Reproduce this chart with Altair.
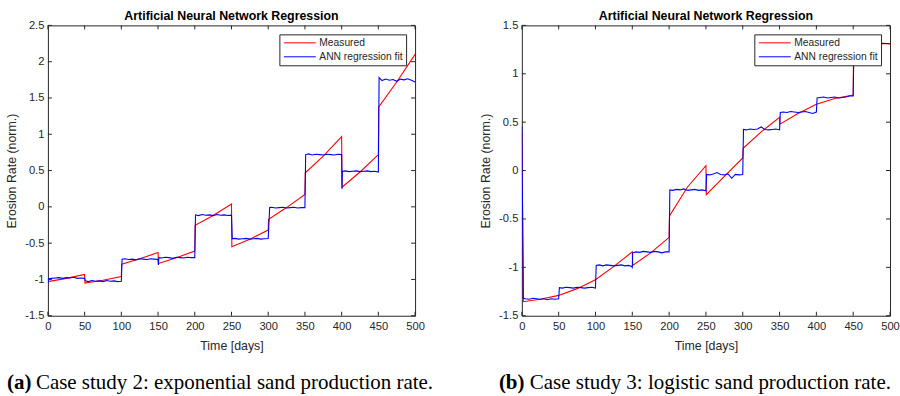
import altair as alt
import pandas as pd

# ---------------- data ----------------
series_names = ["Measured", "ANN regression fit"]
series_colors = ["#ff0000", "#0000ff"]

x_ticks = [0, 50, 100, 150, 200, 250, 300, 350, 400, 450, 500]
left_y_ticks = [-1.5, -1, -0.5, 0, 0.5, 1, 1.5, 2, 2.5]
right_y_ticks = [-1.5, -1, -0.5, 0, 0.5, 1, 1.5]

panel_title = "Artificial Neural Network Regression"
x_title = "Time [days]"
y_title = "Erosion Rate (norm.)"
cap_tags = ["(a)", "(b)"]
cap_texts = ["Case study 2: exponential sand production rate.",
             "Case study 3: logistic sand production rate."]

# Case study 2 (exponential)
a_meas_t = [0, 25, 50, 50.5, 75, 100, 100.5, 125, 150, 150.5, 175, 200, 200.5, 225, 250,
            250.5, 275, 300, 300.5, 325, 350, 350.5, 375, 400, 400.5, 425, 450, 450.5, 475, 500]
a_meas_v = [-1.03, -0.985, -0.93, -1.05, -1.01, -0.96, -0.79, -0.715, -0.63, -0.78, -0.70, -0.61,
            -0.255, -0.12, 0.04, -0.55, -0.445, -0.32, -0.17, -0.01, 0.17, 0.47, 0.70, 0.966,
            0.27, 0.48, 0.72, 1.375, 1.72, 2.10]
a_fit_t = [0, 1, 5, 10, 15, 20, 25, 30, 35, 40, 45, 50,
           51, 55, 60, 65, 70, 75, 80, 85, 90, 95, 100,
           101, 105, 110, 115, 120, 125, 130, 135, 140, 145, 150,
           150.5, 151, 155, 160, 165, 170, 175, 180, 185, 190, 195, 200,
           201, 205, 210, 215, 220, 225, 230, 235, 240, 245, 250,
           251, 255, 260, 265, 270, 275, 280, 285, 290, 295, 300,
           302, 305, 310, 315, 320, 325, 330, 335, 340, 345, 350,
           351, 355, 360, 365, 370, 375, 380, 385, 390, 395, 400,
           400.5, 401, 405, 410, 415, 420, 425, 430, 435, 440, 445, 450,
           451, 455, 460, 465, 470, 475, 480, 485, 490, 495, 500]
a_fit_v = [-1.05, -0.99, -0.985, -0.98, -0.975, -0.985, -0.975, -0.98, -0.97, -0.985, -0.98, -0.985,
           -1.02, -1.03, -1.015, -1.025, -1.02, -1.03, -1.015, -1.025, -1.02, -1.03, -1.025,
           -0.72, -0.715, -0.725, -0.72, -0.73, -0.715, -0.72, -0.725, -0.715, -0.72, -0.725,
           -0.80, -0.70, -0.705, -0.695, -0.70, -0.71, -0.695, -0.70, -0.705, -0.695, -0.70, -0.70,
           -0.11, -0.12, -0.105, -0.115, -0.11, -0.12, -0.105, -0.115, -0.11, -0.12, -0.115,
           -0.44, -0.435, -0.445, -0.44, -0.435, -0.445, -0.44, -0.435, -0.445, -0.44, -0.435,
           -0.01, -0.005, -0.015, -0.01, -0.005, -0.015, -0.01, -0.005, -0.015, -0.01, -0.01,
           0.72, 0.73, 0.715, 0.725, 0.72, 0.715, 0.725, 0.72, 0.715, 0.725, 0.72,
           0.25, 0.49, 0.495, 0.485, 0.49, 0.495, 0.485, 0.49, 0.495, 0.485, 0.49, 0.48,
           1.78, 1.74, 1.76, 1.745, 1.755, 1.73, 1.76, 1.75, 1.765, 1.745, 1.72]

# Case study 3 (logistic)
b_meas_t = [0, 2, 25, 50, 75, 100, 125, 150, 150.5, 175, 200, 200.5, 225, 250, 250.5, 275, 300,
            300.5, 325, 350, 350.5, 375, 400, 425, 450, 450.5, 500]
b_meas_v = [0.40, -1.355, -1.33, -1.29, -1.22, -1.128, -0.99, -0.84, -0.98, -0.85, -0.69, -0.468,
            -0.17, 0.05, -0.25, -0.06, 0.13, 0.23, 0.40, 0.55, 0.48, 0.59, 0.685, 0.745, 0.78,
            1.31, 1.31]
b_fit_t = [0, 2, 5, 10, 15, 20, 25, 30, 35, 40, 45, 50,
           51, 55, 60, 65, 70, 75, 80, 85, 90, 95, 100,
           101, 105, 110, 115, 120, 125, 130, 135, 140, 145, 149, 150,
           150.5, 155, 160, 165, 170, 175, 180, 185, 190, 195, 200,
           201, 205, 210, 215, 220, 225, 230, 235, 240, 245, 250,
           251, 255, 260, 265, 270, 275, 280, 285, 290, 295, 300,
           301, 305, 310, 315, 320, 325, 330, 335, 340, 345, 350,
           351, 355, 360, 365, 370, 375, 380, 385, 390, 395, 400,
           401, 405, 410, 415, 420, 425, 430, 435, 440, 445, 450,
           451, 460, 470, 480, 490, 500]
b_fit_v = [0.46, -1.32, -1.325, -1.33, -1.32, -1.325, -1.33, -1.325, -1.335, -1.325, -1.33, -1.325,
           -1.21, -1.215, -1.205, -1.21, -1.215, -1.205, -1.21, -1.215, -1.21, -1.205, -1.215,
           -0.98, -0.975, -0.985, -0.975, -0.98, -0.985, -0.98, -0.975, -0.985, -0.98, -0.99, -1.0,
           -0.85, -0.84, -0.845, -0.835, -0.84, -0.845, -0.835, -0.84, -0.85, -0.84, -0.84,
           -0.20, -0.205, -0.195, -0.20, -0.19, -0.205, -0.20, -0.195, -0.205, -0.20, -0.21,
           -0.04, -0.045, -0.035, -0.02, -0.04, -0.045, -0.035, -0.08, -0.04, -0.045, -0.04,
           0.425, 0.42, 0.43, 0.425, 0.43, 0.45, 0.425, 0.42, 0.425, 0.43, 0.42,
           0.60, 0.605, 0.60, 0.61, 0.605, 0.60, 0.605, 0.61, 0.60, 0.59, 0.605,
           0.75, 0.755, 0.76, 0.75, 0.755, 0.76, 0.75, 0.755, 0.76, 0.77, 0.77,
           1.315, 1.31, 1.315, 1.31, 1.315, 1.31]

# ---------------- styling ----------------
H = 291
AX = "#262626"
SANS = "Liberation Sans"
SERIF = "Liberation Serif"
TICK = 4
LAB = 11.2
TIT = 12.4
LEG = 10.3
CAP = 21


def panel(W, meas_t, meas_v, fit_t, fit_v, yticks, tag, text, tag_dx, text_dx):
    x_enc = alt.X("t:Q",
                  scale=alt.Scale(domain=[0, 500], nice=False, zero=False),
                  axis=alt.Axis(values=x_ticks, title=x_title, grid=False, domain=False,
                                tickSize=0, labelPadding=5, labelFlush=False,
                                labelOverlap=False, labelFontSize=LAB, labelColor=AX,
                                labelFont=SANS, titleFont=SANS, titleFontSize=TIT,
                                titleFontWeight="normal", titleColor=AX,
                                titleY=30, titleBaseline="middle",
                                labelExpr="'' + datum.value"))
    y_enc = alt.Y("v:Q",
                  scale=alt.Scale(domain=[yticks[0], yticks[-1]], nice=False, zero=False),
                  axis=alt.Axis(values=yticks, title=y_title, grid=False, domain=False,
                                tickSize=0, labelPadding=4, labelFlush=False,
                                labelOverlap=False, labelFontSize=LAB, labelColor=AX,
                                labelFont=SANS, titleFont=SANS, titleFontSize=TIT,
                                titleFontWeight="normal", titleColor=AX,
                                titleX=-36, titleY=H / 2, titleAngle=270,
                                titleBaseline="middle", titleAlign="center",
                                labelExpr="'' + datum.value"))
    color_enc = alt.Color("series:N",
                          scale=alt.Scale(domain=series_names, range=series_colors),
                          legend=alt.Legend(title=None, orient="top-right", offset=9,
                                            strokeColor=AX, fillColor="white", padding=3,
                                            symbolType="stroke", symbolSize=1024,
                                            symbolStrokeWidth=1, clipHeight=11,
                                            rowPadding=3, labelOffset=3, symbolOffset=1,
                                            labelFontSize=LEG, labelFont=SANS,
                                            labelColor=AX, labelLimit=200))

    meas_df = pd.DataFrame({"t": meas_t, "v": meas_v, "series": series_names[0]})
    fit_df = pd.DataFrame({"t": fit_t, "v": fit_v, "series": series_names[1]})

    meas = alt.Chart(meas_df).mark_line(strokeWidth=1.1, clip=True).encode(
        x=x_enc, y=y_enc, color=color_enc)
    fit = alt.Chart(fit_df).mark_line(strokeWidth=1.1, clip=True).encode(
        x=x_enc, y=y_enc, color=color_enc)

    xt = pd.DataFrame({"t": x_ticks})
    yt = pd.DataFrame({"v": yticks})
    tb = alt.Chart(xt).mark_rule(color=AX, strokeWidth=1).encode(
        x=x_enc, y=alt.value(H), y2=alt.value(H - TICK))
    tt = alt.Chart(xt).mark_rule(color=AX, strokeWidth=1).encode(
        x=x_enc, y=alt.value(0), y2=alt.value(TICK))
    tl = alt.Chart(yt).mark_rule(color=AX, strokeWidth=1).encode(
        y=y_enc, x=alt.value(0), x2=alt.value(TICK))
    tr = alt.Chart(yt).mark_rule(color=AX, strokeWidth=1).encode(
        y=y_enc, x=alt.value(W - TICK), x2=alt.value(W))

    cap1 = alt.Chart(pd.DataFrame({"c": [tag]})).mark_text(
        font=SERIF, fontSize=CAP, fontWeight="bold", align="left", baseline="middle",
        color="black").encode(text="c:N", x=alt.value(tag_dx), y=alt.value(H + 67))
    cap2 = alt.Chart(pd.DataFrame({"c": [text]})).mark_text(
        font=SERIF, fontSize=CAP, align="left", baseline="middle",
        color="black").encode(text="c:N", x=alt.value(text_dx), y=alt.value(H + 67))

    return alt.layer(meas, fit, tb, tt, tl, tr, cap1, cap2).properties(
        width=W, height=H,
        title=alt.TitleParams(panel_title, font=SANS, fontSize=TIT, fontWeight="bold",
                              color="black", anchor="middle", offset=-3))


left = panel(368, a_meas_t, a_meas_v, a_fit_t, a_fit_v, left_y_ticks,
             cap_tags[0], cap_texts[0], -41, -12)
right = panel(369, b_meas_t, b_meas_v, b_fit_t, b_fit_v, right_y_ticks,
              cap_tags[1], cap_texts[1], -23, 8)

chart = alt.hconcat(left, right, spacing=107, bounds="flush").resolve_scale(
    color="independent").resolve_legend(color="independent").properties(
    padding={"left": 5, "top": 9, "right": 0, "bottom": 0},
    background="white").configure_view(stroke=AX, strokeWidth=1)

chart.save("out.html", embed_options={"renderer": "svg", "actions": False})
